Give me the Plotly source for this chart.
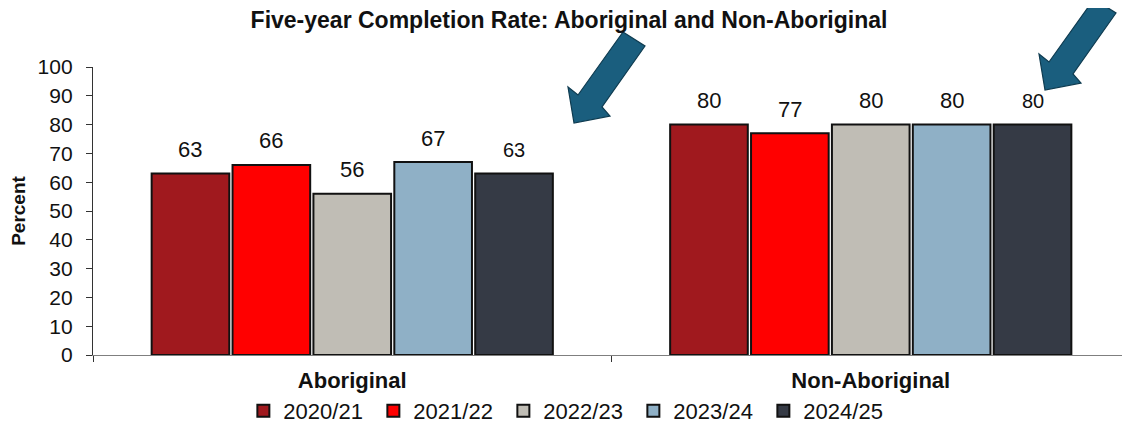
import plotly.graph_objects as go

# data
groups = ["Aboriginal", "Non-Aboriginal"]
years = ["2020/21", "2021/22", "2022/23", "2023/24", "2024/25"]
rates = [
    [63, 80],
    [66, 77],
    [56, 80],
    [67, 80],
    [63, 80],
]
colors = ["#A0191E", "#FF0000", "#C0BDB5", "#8FB0C6", "#353A45"]

FONT = "Liberation Sans, Arial, sans-serif"
# the page body adds an 8px margin, so the figure is drawn 8px smaller
OFF = 8
W, H = 1130 - OFF, 428 - OFF
ML, MR, MT, MB = 93 - OFF, 0, 67 - OFF, 73
PW, PH = W - ML - MR, H - MT - MB
BARGAP = 0.22


def to_paper(px, py):
    # px, py are screen pixels of the final page
    return (px - OFF - ML) / PW, (H - MB - (py - OFF)) / PH


def arrow_path(tip_x, tip_y):
    # block arrow pointing down-left, points relative to the tip in pixels
    pts = [(49, -91), (71, -77), (28, -16), (36, -7), (0, 0), (-6, -36), (4, -28)]
    out = []
    for i, (dx, dy) in enumerate(pts):
        x, y = to_paper(tip_x + dx, tip_y + dy)
        out.append(("M" if i == 0 else "L") + f"{x:.5f},{y:.5f}")
    return " ".join(out) + " Z"


fig = go.Figure()

for yr, vals, col in zip(years, rates, colors):
    fig.add_trace(go.Bar(
        x=groups, y=vals, name=yr,
        marker=dict(color=col, line=dict(color="#111111", width=2)),
        hoverinfo="x+y+name"
    ))

# value labels above bars
slot = PW / len(groups) * (1 - BARGAP) / len(years)
for i, vals in enumerate(rates):
    for g, v in zip(groups, vals):
        fig.add_annotation(
            x=g, y=v, text=str(v), showarrow=False,
            xshift=(i - (len(years) - 1) / 2) * slot, yshift=24,
            font=dict(family=FONT, size=20 if i == len(years) - 1 else 22, color="#111111")
        )

# arrows
for tx, ty in [(574, 123), (1045, 90)]:
    fig.add_shape(
        type="path", xref="paper", yref="paper", path=arrow_path(tx, ty),
        fillcolor="#1A5E7E", line=dict(color="#0E3B50", width=1.2), layer="above"
    )

fig.update_layout(
    width=W, height=H,
    margin=dict(l=ML, r=MR, t=MT, b=MB, autoexpand=False),
    paper_bgcolor="white", plot_bgcolor="white",
    font=dict(family=FONT, color="#111111"),
    title=dict(
        text="<b>Five-year Completion Rate: Aboriginal and Non-Aboriginal</b>",
        x=0.5, xref="container", xanchor="center",
        y=1 - (20 - OFF) / H, yref="container", yanchor="middle",
        font=dict(size=23, color="#111111")
    ),
    barmode="group", bargap=BARGAP, bargroupgap=0.04,
    xaxis=dict(
        showline=True, linecolor="#7f7f7f", linewidth=1.3,
        ticks="outside", tickson="boundaries", ticklen=6, tickcolor="#333333",
        tickfont=dict(size=22, family=FONT, color="#111111", weight="bold"),
        ticklabelstandoff=5, automargin=False,
        showgrid=False, zeroline=False
    ),
    yaxis=dict(
        range=[0, 100], dtick=10,
        showline=True, linecolor="#333333", linewidth=1.3,
        ticks="outside", ticklen=6, tickcolor="#333333",
        tickfont=dict(size=21, family=FONT, color="#111111"),
        ticklabelstandoff=9, automargin=False,
        showgrid=False, zeroline=False,
        title=dict(text="<b>Percent</b>", font=dict(size=19, family=FONT), standoff=7)
    ),
    showlegend=True,
    legend=dict(
        orientation="h", x=0.145, xanchor="left", y=-0.194, yanchor="middle",
        font=dict(size=22, family=FONT, color="#111111"),
        itemwidth=30, entrywidth=85, traceorder="normal",
        bgcolor="rgba(0,0,0,0)"
    )
)

fig.write_html("out.html")
